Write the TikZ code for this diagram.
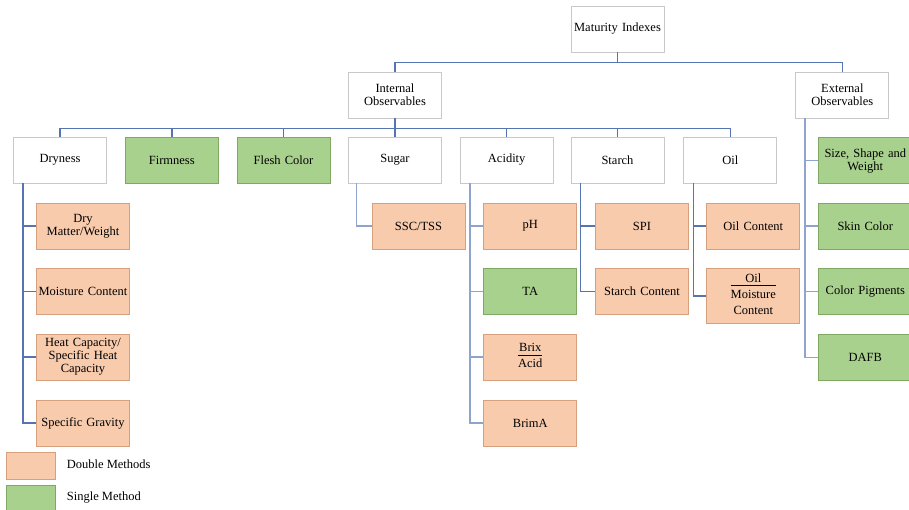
\documentclass[tikz,border=0pt]{standalone}
\usepackage{fontspec}
\setmainfont{Liberation Serif}
\usetikzlibrary{calc}
\definecolor{dblfill}{HTML}{F8CBAD}
\definecolor{dblline}{HTML}{D6A07E}
\definecolor{sglfill}{HTML}{A9D18E}
\definecolor{sglline}{HTML}{7FA862}
\definecolor{plainline}{HTML}{C9C9C9}
\definecolor{wire}{HTML}{5574B0}
\definecolor{wirelight}{HTML}{8EA4CF}
\tikzset{
  box/.style={draw, minimum width=93, minimum height=46, inner sep=1pt,
    text width=91pt, align=center, font=\fontsize{12.5}{13}\selectfont, line width=0.8pt},
  plainbox/.style={box, fill=white, draw=plainline},
  dblbox/.style={box, fill=dblfill, draw=dblline},
  sglbox/.style={box, fill=sglfill, draw=sglline},
  legendbox/.style={draw, minimum width=49, minimum height=27, inner sep=0pt, line width=0.8pt},
  legendtext/.style={anchor=west, inner sep=0pt, font=\fontsize{12.5}{13}\selectfont},
  link/.style={draw=wire, line width=1.4pt},
  linklight/.style={draw=wirelight, line width=1.4pt}
}
\begin{document}
\begin{tikzpicture}[x=1pt, y=-1pt]
\useasboundingbox (0,0) rectangle (909,510);

% top levels
\node[plainbox] (mat) at (617.5,29) {Maturity Indexes};
\node[plainbox] (int) at (395,95) {Internal\\Observables};
\node[plainbox] (ext) at (842.3,95) {External\\Observables};

% internal observables
\node[plainbox] (dry) at (60,160) {Dryness};
\node[sglbox] (firm) at (171.8,160) {Firmness};
\node[sglbox] (flesh) at (283.5,160) {Flesh Color};
\node[plainbox] (sug) at (395,160) {Sugar};
\node[plainbox] (acid) at (506.7,160) {Acidity};
\node[plainbox] (star) at (617.5,160) {Starch};
\node[plainbox] (oil) at (730.3,160) {Oil};

% dryness methods
\node[dblbox] (dm) at (83,226) {Dry\\Matter/Weight};
\node[dblbox] (mc) at (83,291.5) {Moisture Content};
\node[dblbox] (hc) at (83,357) {Heat Capacity/\\Specific Heat\\Capacity};
\node[dblbox] (sg) at (83,423) {Specific Gravity};

% sugar
\node[dblbox] (ssc) at (418.5,226) {SSC/TSS};

% acidity
\node[dblbox] (ph) at (530.3,226) {pH};
\node[sglbox] (ta) at (530.3,291.5) {TA};
\node[dblbox] (ba) at (530.3,357) {\begin{tabular}{@{}c@{}}Brix\\[-1pt]\hline\rule{0pt}{12pt}Acid\end{tabular}};
\node[dblbox] (brima) at (530.3,423) {BrimA};

% starch
\node[dblbox] (spi) at (642,226) {SPI};
\node[dblbox] (sc) at (642,291.5) {Starch Content};

% oil
\node[dblbox] (oc) at (753.3,226) {Oil Content};
\node[dblbox, minimum height=55] (om) at (753.3,296) {\begin{tabular}{@{}c@{}}Oil\\[-1pt]\hline\rule{0pt}{13pt}Moisture\\[3pt]Content\end{tabular}};

% external observables
\node[sglbox] (ssw) at (865.3,160.7) {Size, Shape and\\Weight};
\node[sglbox] (skin) at (865.3,226) {Skin Color};
\node[sglbox] (pig) at (865.3,291.5) {Color Pigments};
\node[sglbox] (dafb) at (865.3,357.3) {DAFB};

% legend
\node[legendbox, fill=dblfill, draw=dblline, anchor=north west] (ldbl) at (5.7,452.3) {};
\node[legendtext] (ldbltext) at (66.7,464) {Double Methods};
\node[legendbox, fill=sglfill, draw=sglline, anchor=north west] (lsgl) at (5.7,485) {};
\node[legendtext] (lsgltext) at (66.7,498) {Single Method};

% first bus
\coordinate (bus1) at ($(mat.south)+(0,10)$);
\draw[link] (mat.south) -- (bus1);
\draw[link] (int.north) -- (int.north |- bus1) -- (ext.north |- bus1) -- (ext.north);

% second bus
\coordinate (bus2) at ($(int.south)+(0,10)$);
\draw[link] (int.south) -- (bus2);
\draw[link] (dry.north) -- (dry.north |- bus2) -- (oil.north |- bus2) -- (oil.north);
\foreach \c in {firm,flesh,sug,acid,star}
  \draw[link] (\c.north) -- (\c.north |- bus2);

% branch trunks and stubs
\coordinate (tdry) at ($(dry.south west)+(10,0)$);
\draw[link] (tdry) |- (sg.west);
\foreach \c in {dm,mc,hc}
  \draw[link] (tdry |- \c.west) -- (\c.west);

\draw[linklight] ($(sug.south west)+(8.3,0)$) |- (ssc.west);

\coordinate (tacid) at ($(acid.south west)+(10,0)$);
\draw[linklight] (tacid) |- (brima.west);
\foreach \c in {ph,ta,ba}
  \draw[linklight] (tacid |- \c.west) -- (\c.west);

\draw[link] ($(star.south west)+(10,0)$) coordinate (tstar) |- (sc.west);
\draw[link] (tstar |- spi.west) -- (spi.west);

\draw[link] ($(oil.south west)+(10,0)$) coordinate (toil) |- (om.west);
\draw[link] (toil |- oc.west) -- (oc.west);

\coordinate (text) at ($(ext.south west)+(9.6,0)$);
\draw[linklight] (text) |- (dafb.west);
\foreach \c in {ssw,skin,pig}
  \draw[linklight] (text |- \c.west) -- (\c.west);
\end{tikzpicture}
\end{document}
